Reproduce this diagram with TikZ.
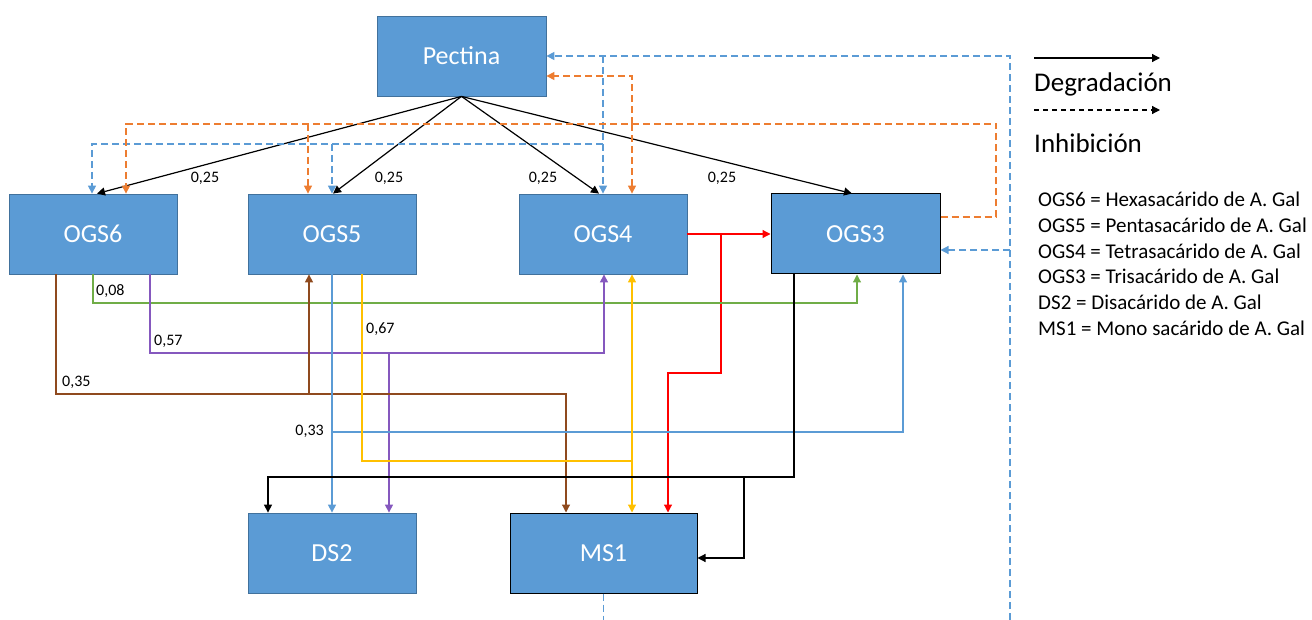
\documentclass[tikz,border=0pt]{standalone}
\usepackage{fontspec}
\setmainfont{Carlito}
\usetikzlibrary{arrows.meta}
\definecolor{boxblue}{HTML}{5B9BD5}
\definecolor{boxedge}{HTML}{41719C}
\definecolor{inhblue}{HTML}{5B9BD5}
\definecolor{inhorange}{HTML}{ED7D31}
\definecolor{cgreen}{HTML}{70AD47}
\definecolor{cpurple}{HTML}{8558BE}
\definecolor{cbrown}{HTML}{8F4A1E}
\definecolor{cyellow}{HTML}{FFC000}
\definecolor{cred}{HTML}{FF0000}
\definecolor{cblue}{HTML}{5B9BD5}
\begin{document}
\begin{tikzpicture}[x=1pt,y=-1pt,
  box/.style={draw=boxedge, fill=boxblue, line width=0.8pt, minimum width=168pt, minimum height=80pt, inner sep=0pt, text=white, font=\fontsize{26}{30}\selectfont},
  darkbox/.style={box, draw=black, line width=1pt},
  conn/.style={line width=1.2pt, -{Triangle[length=8pt,width=8pt]}},
  plain/.style={line width=1.2pt},
  inh/.style={line width=1.2pt, dash pattern=on 7pt off 4pt},
  inharr/.style={inh, -{Triangle[length=8pt,width=8pt]}},
  val/.style={font=\fontsize{16}{18}\selectfont, inner sep=0pt, text=black},
  leg/.style={font=\fontsize{21}{24}\selectfont, inner sep=0pt, anchor=base west},
  legbig/.style={font=\fontsize{27}{30}\selectfont, inner sep=0pt, anchor=base west},
]
\useasboundingbox (0,0) rectangle (1312,620);

% boxes
\node[box, minimum width=169pt] (pec) at (461.5,56) {Pectina};
\node[box] (o6) at (93,234) {OGS6};
\node[box] (o5) at (332,234) {OGS5};
\node[box] (o4) at (603,234) {OGS4};
\node[darkbox, minimum width=169pt] (o3) at (855.5,234) {OGS3};
\node[box] (ds) at (332,553) {DS2};
\node[darkbox, minimum width=187pt] (ms) at (603.5,553) {MS1};

% degradation from Pectina
\draw[conn] (pec.south) -- ([xshift=4pt]o6.north);
\draw[conn] (pec.south) -- ([xshift=1pt]o5.north);
\draw[conn] (pec.south) -- ([xshift=-4pt]o4.north);
\draw[conn] (pec.south) -- ([xshift=-3.5pt]o3.north);
\node[val] (v1) at (205,178) {0,25};
\node[val] (v2) at (389,178) {0,25};
\node[val] (v3) at (543,178) {0,25};
\node[val] (v4) at (722,178) {0,25};

% blue dashed inhibition
\coordinate (b1) at (603.5,620);
\coordinate (b2) at (1010,620);
\coordinate (bj1) at (1010,250);
\coordinate (bj2) at (603,144);
\coordinate (bj3) at (332,144);
\draw[inh, inhblue] (ms.south) -- (b1);
\draw[inharr, inhblue] (b2) |- (pec.east);
\draw[inharr, inhblue] (bj1) -- ([yshift=-16pt]o3.east);
\draw[inharr, inhblue] (pec.east -| o4.north) -- (o4.north);
\draw[inharr, inhblue] (bj2) -| ([xshift=-1pt]o6.north);
\draw[inharr, inhblue] (bj3) -- (o5.north);

% orange dashed inhibition
\coordinate (oj1) at (996,124);
\coordinate (oj2) at (308,124);
\coordinate (oj3) at (632,124);
\draw[inharr, inhorange] ([yshift=17pt]o3.east) -| (oj1) -| ([xshift=33pt]o6.north);
\draw[inharr, inhorange] (oj2) -- ([xshift=-24pt]o5.north);
\draw[inharr, inhorange] (oj3) -- ([xshift=29pt]o4.north);
\draw[inharr, inhorange] (oj3) |- ([yshift=-20pt]pec.east);

% red
\coordinate (rj) at (721,234);
\draw[conn, cred] (o4.east) -- (o3.west);
\draw[conn, cred] (rj) -- (721,373) -| ([xshift=64.5pt]ms.north);

% green
\draw[conn, cgreen] (o6.south) -- (93,303) -| ([xshift=1.5pt]o3.south);
\node[val, anchor=west] (v5) at (96,291) {0,08};

% purple
\coordinate (pj) at (389,353);
\draw[conn, cpurple] ([xshift=57pt]o6.south) -- (150,353) -| ([xshift=1pt]o4.south);
\draw[conn, cpurple] (pj) -- ([xshift=57pt]ds.north);
\node[val, anchor=west] (v6) at (154,341) {0,57};

% brown
\coordinate (brj) at (309,394);
\draw[conn, cbrown] ([xshift=-37pt]o6.south) -- (56,394) -| ([xshift=-37.5pt]ms.north);
\draw[conn, cbrown] (brj) -- ([xshift=-23pt]o5.south);
\node[val, anchor=west] (v7) at (62,382) {0,35};

% light blue solid
\coordinate (lbj) at (332,432);
\draw[conn, cblue] (o5.south) -- (ds.north);
\draw[conn, cblue] (lbj) -| ([xshift=47.5pt]o3.south);
\node[val, anchor=east] (v8) at (324,431) {0,33};

% yellow
\coordinate (yj) at (632,461);
\draw[plain, cyellow] ([xshift=30pt]o5.south) -- (362,461) -- (yj);
\draw[conn, cyellow] (yj) -- ([xshift=29pt]o4.south);
\draw[conn, cyellow] (yj) -- ([xshift=28.5pt]ms.north);
\node[val, anchor=west] (v9) at (366,329) {0,67};

% black from OGS3
\coordinate (kj) at (744,477);
\draw[conn] ([xshift=-61.5pt]o3.south) -- (794,477) -| ([xshift=-64pt]ds.north);
\draw[conn] (kj) -- (744,558) -- ([yshift=-5pt]ms.east);

% legend
\coordinate (la1) at (1034,58);
\coordinate (la2) at (1160,58);
\coordinate (lb1) at (1034,110);
\coordinate (lb2) at (1160,110);
\draw[conn] (la1) -- (la2);
\draw[line width=1.2pt, dash pattern=on 5pt off 4pt, -{Triangle[length=8pt,width=8pt]}] (lb1) -- (lb2);
\node[legbig] (tdeg) at (1034,92) {Degradación};
\node[legbig] (tinh) at (1034,153) {Inhibición};
\node[leg] (t1) at (1038,207) {OGS6 = Hexasacárido de A. Gal};
\node[leg] (t2) at (1038,232.6) {OGS5 = Pentasacárido de A. Gal};
\node[leg] (t3) at (1038,258.2) {OGS4 = Tetrasacárido de A. Gal};
\node[leg] (t4) at (1038,283.8) {OGS3 = Trisacárido de A. Gal};
\node[leg] (t5) at (1038,309.4) {DS2 = Disacárido de A. Gal};
\node[leg] (t6) at (1038,335) {MS1 = Mono sacárido de A. Gal};
\end{tikzpicture}
\end{document}
